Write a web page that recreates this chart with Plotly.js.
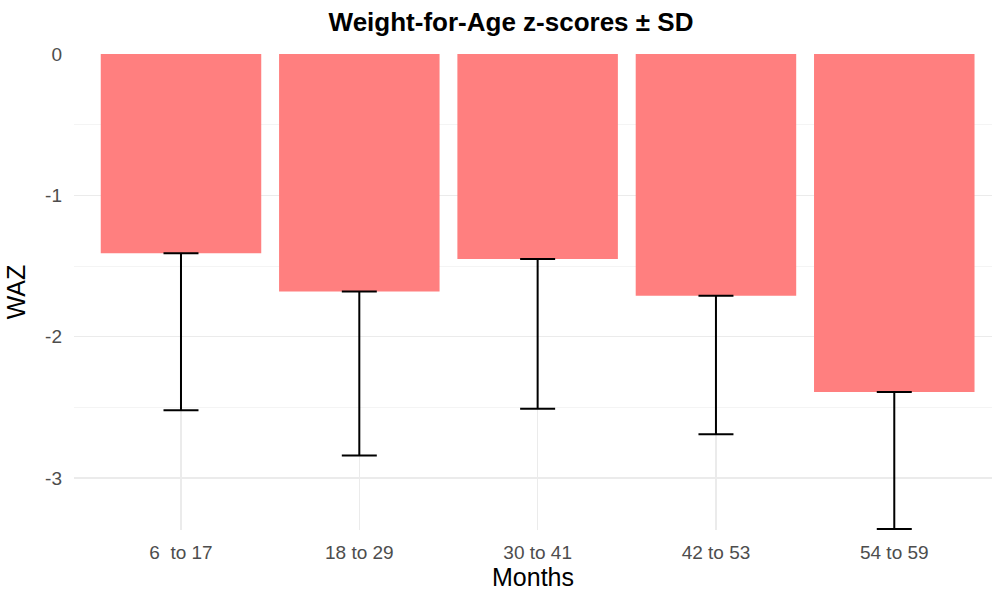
<!DOCTYPE html>
<html>
<head>
<meta charset="utf-8">
<script src="https://cdn.plot.ly/plotly-3.0.1.min.js"></script>
<style>
  html, body { margin: 0; padding: 0; background: #ffffff; }
  #chart { width: 992px; height: 592px; }
</style>
</head>
<body>
<div id="chart"></div>
<script>
// Age groups (months) and mean weight-for-age z-scores with their SD
const ageGroups = ["6  to 17", "18 to 29", "30 to 41", "42 to 53", "54 to 59"];
const meanWAZ = [-1.41, -1.68, -1.45, -1.71, -2.39];
const sdWAZ = [1.11, 1.16, 1.06, 0.98, 0.97];

const yTickVals = [0, -1, -2, -3];
const yTickText = ["0", "-1", "-2", "-3"];

const FONT = "Liberation Sans, Arial, Helvetica, sans-serif";

// keep the double space in the first label visible
const tickLabels = ageGroups.map(s => s.replace(/  /g, "\u00a0 "));

const trace = {
  type: "bar",
  x: ageGroups,
  y: meanWAZ,
  width: 0.9,
  marker: { color: "#ff7f7f", line: { width: 0 } },
  error_y: {
    type: "data",
    symmetric: false,
    array: meanWAZ.map(() => 0),
    arrayminus: sdWAZ,
    color: "#000000",
    thickness: 2,
    width: 17.5
  },
  hoverinfo: "x+y"
};

const layout = {
  width: 992,
  height: 592,
  margin: { l: 74, r: 0, t: 53.5, b: 62, pad: 0 },
  paper_bgcolor: "#ffffff",
  plot_bgcolor: "#ffffff",
  showlegend: false,
  font: { family: FONT, color: "#4d4d4d" },
  title: {
    text: "<b>Weight-for-Age z-scores ± SD</b>",
    font: { family: FONT, size: 26, color: "#000000" },
    x: 511 / 992,
    xanchor: "center",
    xref: "container",
    y: 1 - 22 / 592,
    yanchor: "middle",
    yref: "container"
  },
  xaxis: {
    type: "category",
    categoryorder: "array",
    categoryarray: ageGroups,
    tickvals: ageGroups,
    ticktext: tickLabels,
    range: [-0.6, 4.548],
    showgrid: true,
    gridcolor: "#ebebeb",
    gridwidth: 1.5,
    zeroline: false,
    showline: false,
    ticks: "",
    ticklabelstandoff: 9,
    tickfont: { family: FONT, size: 19, color: "#4d4d4d" },
    title: {
      text: "Months",
      font: { family: FONT, size: 25, color: "#000000" },
      standoff: 6
    },
    automargin: false
  },
  yaxis: {
    range: [-3.367, 0],
    tickvals: yTickVals,
    ticktext: yTickText,
    showgrid: true,
    gridcolor: "#ebebeb",
    gridwidth: 1.5,
    minor: {
      dtick: 0.5,
      showgrid: true,
      gridcolor: "#f4f4f4",
      gridwidth: 1
    },
    zeroline: false,
    showline: false,
    ticks: "",
    ticklabelstandoff: 11,
    tickfont: { family: FONT, size: 19, color: "#4d4d4d" },
    title: {
      text: "WAZ",
      font: { family: FONT, size: 25, color: "#000000" },
      standoff: 12
    },
    automargin: false
  },
  bargap: 0.1
};

Plotly.newPlot("chart", [trace], layout, { staticPlot: true, displayModeBar: false });
</script>
</body>
</html>
